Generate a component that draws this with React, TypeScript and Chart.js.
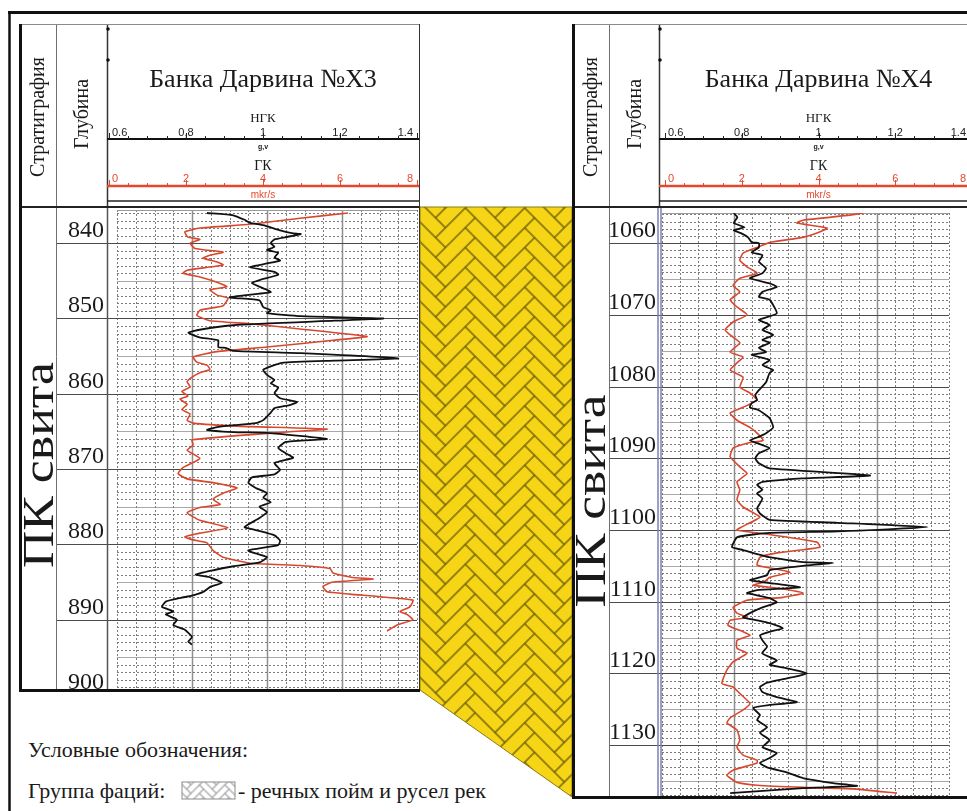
import React, { useEffect, useRef } from "react";
import { Chart, registerables } from "chart.js";

Chart.register(...registerables);

const SERIF = '"Liberation Serif", "Times New Roman", Tinos, "DejaVu Serif", "Noto Serif", serif';
const SANS = '"Liberation Sans", Arial, sans-serif';

type Pair = [number, number];

// ---- Well X3: [depth, value] ----
const x3Ngk: Pair[] = [
  [836.0, 0.84], [836.3, 0.91], [836.9, 0.94], [837.3, 0.955], [837.6, 0.99], [838.3, 1.035], [838.7, 1.07], [838.8, 1.09],
  [839.2, 1.05], [839.5, 1.02], [840.0, 1.01], [840.5, 1.02], [840.9, 1.0], [841.3, 1.03], [841.9, 1.02], [842.3, 1.035],
  [842.7, 1.0], [843.2, 0.955], [843.8, 1.02], [844.2, 1.03], [844.9, 0.98], [845.3, 0.96], [846.0, 0.99], [846.5, 1.01],
  [847.2, 0.9], [847.6, 0.98], [848.5, 0.99], [848.9, 1.01], [849.3, 1.0], [849.7, 1.09], [850.0, 1.31], [850.3, 1.18],
  [850.9, 0.91], [851.5, 0.82], [851.9, 0.79], [852.5, 0.82], [852.9, 0.87], [853.8, 0.87], [853.9, 0.89], [854.3, 0.91],
  [854.6, 1.09], [855.3, 1.35], [855.6, 1.18], [855.9, 1.04], [856.8, 0.99], [857.5, 1.0], [858.2, 1.02], [858.6, 1.01],
  [859.2, 1.03], [859.9, 1.02], [860.6, 1.035], [861.1, 1.08], [861.5, 1.06], [861.9, 1.02], [862.5, 1.01], [863.5, 0.99],
  [863.9, 0.97], [864.4, 0.87], [864.8, 0.84], [865.1, 0.91], [865.2, 1.0], [866.0, 1.16], [866.4, 1.05], [867.2, 1.03],
  [867.9, 1.05], [868.5, 1.07], [869.2, 1.02], [870.1, 1.035], [870.7, 1.02], [871.1, 0.96], [871.8, 0.95], [872.5, 0.97],
  [873.2, 1.0], [873.8, 0.99], [874.4, 1.01], [875.0, 0.98], [875.7, 1.0], [876.5, 0.98], [877.7, 0.94], [878.1, 0.97],
  [878.8, 1.02], [879.5, 1.035], [880.1, 1.03], [880.8, 0.95], [881.2, 0.97], [881.7, 1.0], [882.4, 0.98], [882.9, 0.91],
  [883.4, 0.86], [884.0, 0.81], [884.4, 0.85], [885.1, 0.88], [885.6, 0.85], [886.3, 0.83], [886.8, 0.8], [887.1, 0.77],
  [887.6, 0.73], [888.3, 0.72], [888.9, 0.75], [889.3, 0.73], [890.0, 0.76], [890.7, 0.75], [891.3, 0.78], [892.3, 0.8],
  [892.9, 0.79], [893.3, 0.8],
];

const x3Gk: Pair[] = [
  [836.0, 6.16], [836.7, 4.88], [837.5, 3.55], [838.0, 2.21], [838.5, 1.81], [839.2, 1.89], [839.5, 2.21], [840.0, 1.95],
  [840.7, 2.08], [841.2, 2.83], [841.6, 2.48], [842.0, 2.29], [842.5, 2.67], [842.9, 2.83], [843.6, 1.87], [844.0, 1.76],
  [844.5, 2.21], [845.2, 2.67], [845.8, 2.93], [846.2, 2.48], [846.9, 2.67], [847.3, 2.96], [848.3, 2.83], [848.9, 2.21],
  [849.6, 2.13], [850.3, 2.48], [850.7, 3.55], [851.4, 4.88], [852.4, 6.67], [852.9, 5.76], [853.8, 4.0], [854.4, 2.67],
  [855.1, 2.03], [855.8, 2.13], [856.2, 2.4], [856.8, 2.48], [857.2, 2.21], [857.8, 2.0], [858.4, 1.87], [859.1, 1.95],
  [859.7, 1.73], [860.3, 1.89], [860.7, 1.68], [861.4, 1.87], [862.1, 1.73], [862.7, 1.95], [863.5, 1.87], [863.9, 2.03],
  [864.3, 3.2], [864.7, 5.6], [865.1, 4.43], [866.1, 2.0], [866.8, 2.03], [867.5, 1.87], [868.6, 2.21], [869.8, 1.76],
  [870.6, 1.63], [871.3, 1.87], [871.8, 2.56], [872.5, 3.2], [873.2, 2.83], [874.0, 2.56], [874.7, 2.75], [875.1, 2.21],
  [875.8, 1.87], [876.8, 2.21], [877.8, 2.96], [878.5, 2.21], [879.0, 1.81], [879.4, 2.03], [879.8, 2.4], [880.8, 2.56],
  [881.7, 2.83], [882.5, 3.55], [882.8, 4.88], [883.2, 5.68], [883.8, 5.76], [884.4, 6.29], [884.6, 6.83], [885.0, 5.76],
  [885.6, 5.49], [886.3, 5.6], [886.6, 6.21], [887.4, 7.89], [888.3, 7.81], [888.9, 7.55], [889.3, 7.73], [890.0, 7.89],
  [890.7, 7.47], [891.5, 7.2],
];

// ---- Well X4: [depth, value] ----
const x4Ngk: Pair[] = [
  [1055.8, 0.8], [1056.4, 0.81], [1057.2, 0.8], [1057.8, 0.83], [1058.2, 0.8], [1058.6, 0.82], [1059.2, 0.84], [1059.9, 0.85],
  [1060.0, 0.87], [1060.6, 0.87], [1061.3, 0.85], [1061.7, 0.88], [1062.6, 0.87], [1063.5, 0.89], [1064.2, 0.88], [1064.9, 0.845],
  [1065.6, 0.9], [1066.1, 0.92], [1066.8, 0.88], [1067.5, 0.87], [1067.9, 0.9], [1069.8, 0.92], [1070.7, 0.87], [1071.4, 0.9],
  [1072.1, 0.88], [1072.8, 0.91], [1073.5, 0.88], [1073.9, 0.9], [1074.6, 0.87], [1075.2, 0.89], [1075.6, 0.85], [1076.3, 0.9],
  [1077.0, 0.88], [1077.7, 0.91], [1078.1, 0.9], [1079.4, 0.89], [1080.5, 0.87], [1081.2, 0.86], [1081.9, 0.865], [1082.3, 0.85],
  [1082.9, 0.845], [1083.3, 0.87], [1084.4, 0.9], [1085.7, 0.91], [1086.5, 0.89], [1087.1, 0.865], [1087.5, 0.845], [1087.9, 0.865],
  [1088.6, 0.9], [1089.3, 0.87], [1090.0, 0.86], [1090.7, 0.87], [1091.4, 0.9], [1092.4, 1.18], [1092.8, 0.99], [1093.3, 0.88],
  [1093.7, 0.865], [1094.4, 0.88], [1094.9, 0.865], [1095.6, 0.88], [1096.3, 0.873], [1097.0, 0.865], [1097.7, 0.873], [1098.6, 0.9],
  [1099.0, 1.09], [1099.6, 1.34], [1100.2, 1.09], [1100.4, 0.9], [1101.0, 0.81], [1102.4, 0.795], [1102.8, 0.826], [1103.8, 0.9],
  [1104.5, 0.993], [1104.6, 1.077], [1105.0, 0.993], [1105.6, 0.9], [1106.3, 0.893], [1107.0, 0.845], [1107.4, 0.9], [1108.0, 0.985],
  [1108.4, 0.865], [1108.8, 0.837], [1109.5, 0.9], [1110.1, 0.92], [1110.8, 0.88], [1111.6, 0.845], [1112.2, 0.826], [1112.6, 0.865],
  [1113.0, 0.9], [1113.7, 0.937], [1114.2, 0.9], [1114.7, 0.873], [1115.4, 0.88], [1116.3, 0.893], [1117.2, 0.879], [1118.2, 0.92],
  [1118.8, 0.9], [1119.3, 0.948], [1120.0, 1.004], [1120.7, 0.948], [1121.3, 0.893], [1121.9, 0.873], [1122.6, 0.88], [1123.3, 0.92],
  [1124.0, 0.976], [1124.4, 0.9], [1124.8, 0.854], [1125.8, 0.873], [1126.5, 0.865], [1127.5, 0.893], [1128.3, 0.873], [1129.3, 0.9],
  [1130.3, 0.88], [1131.1, 0.92], [1131.8, 0.9], [1132.5, 0.873], [1133.1, 0.893], [1133.8, 0.948], [1134.6, 0.993], [1135.3, 1.077],
  [1135.7, 1.144], [1136.0, 0.993], [1136.7, 0.79],
];

const x4Gk: Pair[] = [
  [1055.8, 5.6], [1056.1, 5.24], [1056.8, 3.93], [1057.2, 3.76], [1057.9, 4.6], [1058.6, 4.32], [1059.2, 3.93], [1059.9, 3.01],
  [1060.6, 2.65], [1061.4, 2.26], [1062.4, 2.17], [1063.3, 2.37], [1064.2, 2.65], [1064.9, 2.17], [1065.9, 1.98], [1066.8, 2.17],
  [1067.9, 1.9], [1068.9, 2.09], [1070.0, 2.37], [1071.0, 1.98], [1072.1, 1.76], [1073.1, 1.98], [1073.9, 2.17], [1075.2, 1.9],
  [1075.9, 2.26], [1076.7, 2.09], [1077.7, 1.9], [1078.7, 2.26], [1080.1, 2.17], [1080.9, 2.45], [1081.9, 2.65], [1082.9, 2.26],
  [1083.7, 1.9], [1084.7, 2.09], [1085.7, 2.45], [1086.5, 2.65], [1087.5, 2.82], [1087.9, 2.37], [1088.6, 1.98], [1089.8, 1.9],
  [1091.2, 2.17], [1092.1, 2.37], [1093.3, 2.09], [1094.4, 2.17], [1095.8, 2.09], [1096.8, 2.26], [1098.2, 2.73], [1099.0, 2.45],
  [1100.0, 2.09], [1100.4, 2.65], [1101.7, 4.32], [1102.4, 4.4], [1103.2, 3.21], [1103.8, 2.73], [1104.9, 2.65], [1105.3, 3.01],
  [1105.9, 3.57], [1106.6, 3.01], [1107.3, 2.82], [1107.7, 2.54], [1108.1, 3.21], [1108.8, 3.93], [1109.4, 3.37], [1109.8, 2.37],
  [1110.8, 1.98], [1111.6, 2.09], [1112.2, 2.37], [1112.6, 1.9], [1113.3, 1.84], [1114.2, 2.26], [1114.7, 2.45], [1115.4, 2.09],
  [1116.5, 2.09], [1117.2, 2.37], [1118.4, 1.98], [1119.5, 1.81], [1121.4, 1.67], [1121.9, 1.98], [1122.8, 2.17], [1124.2, 2.45],
  [1125.1, 2.26], [1126.2, 1.9], [1126.9, 1.81], [1127.9, 2.09], [1129.3, 2.17], [1130.3, 2.09], [1131.4, 2.26], [1132.1, 2.65],
  [1132.5, 2.65], [1133.5, 1.98], [1134.2, 1.81], [1135.2, 2.09], [1135.6, 2.65], [1135.9, 3.93], [1136.1, 5.32], [1136.7, 6.55],
];

// ---- axis labels ----
const ngkTicks = [0.6, 0.8, 1, 1.2, 1.4];
const ngkTickLabels = ["0.6", "0,8", "1", "1,2", "1.4"];
const gkTicks = [0, 2, 4, 6, 8];
const gkTickLabels = ["0", "2", "4", "6", "8"];
const x3DepthTicks = [840, 850, 860, 870, 880, 890, 900];
const x4DepthTicks = [1060, 1070, 1080, 1090, 1100, 1110, 1120, 1130];

interface WellSpec {
  id: string;
  title: string;
  left: number;
  top: number;
  width: number;
  height: number;
  pad: { left: number; right: number; top: number; bottom: number };
  depthRange: [number, number];
  headerGk: [number, number];
  depthTicks: number[];
  ngk: Pair[];
  gk: Pair[];
  stratX: number;
  trackX: number;
  formationBaseX: number;
  formationMidY: number;
  formationLen: number;
  rightEdge: boolean;
  doubleEdge: boolean;
}

// header rows, canvas-relative
const HEAD = {
  titleY: 56,
  ngkNameY: 95,
  ngkLabelY: 108.5,
  ngkLineY: 115,
  unitY: 123.5,
  gkNameY: 142,
  gkLabelY: 154.5,
  gkLineY: 162,
  mkrY: 171,
  bottomY: 177,
  bodyY: 183,
};

const RED = "#d9482e";
const RED_AXIS = "#e4492f";

const wells: WellSpec[] = [
  {
    id: "x3",
    title: "Банка Дарвина №X3",
    left: 19,
    top: 24,
    width: 401,
    height: 668,
    pad: { left: 98, right: 3, top: 186, bottom: 3 },
    depthRange: [835.6, 899.2],
    headerGk: [0.208, 8],
    depthTicks: x3DepthTicks,
    ngk: x3Ngk,
    gk: x3Gk,
    stratX: 37,
    trackX: 88,
    formationBaseX: 34,
    formationMidY: 441,
    formationLen: 206,
    rightEdge: true,
    doubleEdge: false,
  },
  {
    id: "x4",
    title: "Банка Дарвина №X4",
    left: 572,
    top: 24,
    width: 395,
    height: 775,
    pad: { left: 90, right: 18, top: 189, bottom: 3 },
    depthRange: [1055.8, 1137.1],
    headerGk: [-0.078, 7.4],
    depthTicks: x4DepthTicks,
    ngk: x4Ngk,
    gk: x4Gk,
    stratX: 37,
    trackX: 87,
    formationBaseX: 33,
    formationMidY: 477,
    formationLen: 213,
    rightEdge: false,
    doubleEdge: true,
  },
];

function seg(ctx: CanvasRenderingContext2D, x1: number, y1: number, x2: number, y2: number) {
  ctx.beginPath();
  ctx.moveTo(x1, y1);
  ctx.lineTo(x2, y2);
  ctx.stroke();
}

function vText(
  ctx: CanvasRenderingContext2D,
  text: string,
  x: number,
  y: number,
  font: string,
  baseline: CanvasTextBaseline,
  length?: number
) {
  ctx.save();
  ctx.translate(x, y);
  ctx.rotate(-Math.PI / 2);
  ctx.font = font;
  ctx.textAlign = "center";
  ctx.textBaseline = baseline;
  if (length) {
    const w = ctx.measureText(text).width;
    ctx.scale(length / w, 1);
  }
  ctx.fillText(text, 0, 0);
  ctx.restore();
}

function drawGrid(chart: any, spec: WellSpec) {
  const { ctx, chartArea: a } = chart;
  const xs = chart.scales.x;
  const ys = chart.scales.y;
  ctx.save();
  ctx.lineWidth = 1;
  const dTop = Math.ceil(ys.min);
  const dBot = Math.floor(ys.max);
  for (let d = dTop; d <= dBot; d++) {
    if (d % 10 === 0) continue;
    const py = Math.round(ys.getPixelForValue(d)) + 0.5;
    if (d % 5 === 0) {
      ctx.setLineDash([]);
      ctx.strokeStyle = "#a8a8a8";
    } else {
      ctx.setLineDash([2, 2]);
      ctx.strokeStyle = "#7c7c7c";
    }
    seg(ctx, a.left, py, a.right, py);
  }
  for (let i = 0; i <= 16; i++) {
    const px = Math.round(xs.getPixelForValue(i / 2)) + 0.5;
    if (i % 4 === 0 && i > 0 && i < 16) {
      ctx.setLineDash([]);
      ctx.strokeStyle = "#8e8e8e";
      ctx.lineWidth = 1.5;
    } else {
      ctx.setLineDash([2, 2]);
      ctx.strokeStyle = "#7c7c7c";
      ctx.lineWidth = 1;
    }
    seg(ctx, px, a.top, px, a.bottom);
  }
  ctx.setLineDash([]);
  ctx.lineWidth = 1;
  ctx.strokeStyle = "#9a9a9a";
  seg(ctx, a.left, a.top + 0.5, a.right, a.top + 0.5);
  ctx.strokeStyle = "#4a4a4a";
  for (const d of spec.depthTicks) {
    const py = Math.round(ys.getPixelForValue(d)) + 0.5;
    if (py < a.top || py > a.bottom) continue;
    seg(ctx, spec.stratX, py, a.right, py);
  }
  ctx.restore();
}

function drawFrame(chart: any, spec: WellSpec) {
  const { ctx, chartArea: a, width: W } = chart;
  const ys = chart.scales.y;
  const hg = chart.scales.xhg;
  const hn = chart.scales.xhn;
  const bottom = a.bottom;
  ctx.save();

  // column separators
  ctx.lineWidth = 1;
  ctx.strokeStyle = "#6f6f6f";
  seg(ctx, spec.stratX + 0.5, 0, spec.stratX + 0.5, bottom);
  ctx.strokeStyle = "#333";
  ctx.lineWidth = 1.5;
  seg(ctx, spec.trackX + 0.5, 0, spec.trackX + 0.5, HEAD.bodyY);
  if (spec.doubleEdge) {
    ctx.strokeStyle = "#7b80b2";
    ctx.lineWidth = 1.5;
    seg(ctx, spec.trackX - 1, HEAD.bodyY, spec.trackX - 1, bottom);
    seg(ctx, spec.trackX + 2, HEAD.bodyY, spec.trackX + 2, bottom);
  } else {
    ctx.strokeStyle = "#555";
    seg(ctx, spec.trackX + 0.5, HEAD.bodyY, spec.trackX + 0.5, bottom);
  }

  // header rules
  ctx.strokeStyle = "#8a8a8a";
  ctx.lineWidth = 1;
  seg(ctx, 0, 0.5, W, 0.5);
  ctx.strokeStyle = "#111";
  ctx.lineWidth = 2;
  seg(ctx, spec.trackX, HEAD.ngkLineY, W, HEAD.ngkLineY);
  ctx.strokeStyle = RED_AXIS;
  ctx.lineWidth = 2.5;
  seg(ctx, spec.trackX, HEAD.gkLineY, W, HEAD.gkLineY);
  ctx.strokeStyle = "#222";
  ctx.lineWidth = 1.5;
  seg(ctx, spec.trackX, HEAD.bottomY, W, HEAD.bottomY);
  ctx.lineWidth = 2;
  seg(ctx, 0, HEAD.bodyY, W, HEAD.bodyY);

  // small marks on the header edge
  ctx.fillStyle = "#111";
  for (const my of [5, 36]) {
    ctx.beginPath();
    ctx.arc(spec.trackX + 1, my, 1.8, 0, Math.PI * 2);
    ctx.fill();
  }

  // header axis ticks
  ctx.lineWidth = 1;
  for (let i = 0; i <= 16; i++) {
    const v = 0.6 + i * 0.05;
    const px = Math.round(hn.getPixelForValue(v)) + 0.5;
    if (px > W) continue;
    const major = i % 4 === 0;
    ctx.strokeStyle = "#222";
    seg(ctx, px, HEAD.ngkLineY - (major ? 6 : 3), px, HEAD.ngkLineY);
    const g = i * 0.5;
    const gx = Math.round(hg.getPixelForValue(g)) + 0.5;
    ctx.strokeStyle = RED_AXIS;
    seg(ctx, gx, HEAD.gkLineY - (major ? 6 : 3), gx, HEAD.gkLineY);
  }

  const tickLabel = (text: string, x: number, y: number, i: number, n: number) => {
    if (i === 0) {
      ctx.textAlign = "left";
      ctx.fillText(text, x + 3, y);
    } else if (i === n - 1) {
      ctx.textAlign = "right";
      ctx.fillText(text, Math.min(x - 4, W - 1), y);
    } else {
      ctx.textAlign = "center";
      ctx.fillText(text, x, y);
    }
  };
  ctx.textBaseline = "middle";
  ctx.font = `11px ${SANS}`;
  ctx.fillStyle = "#222";
  ngkTicks.forEach((v, i) => tickLabel(ngkTickLabels[i], hn.getPixelForValue(v), HEAD.ngkLabelY, i, ngkTicks.length));
  ctx.fillStyle = RED_AXIS;
  gkTicks.forEach((v, i) => tickLabel(gkTickLabels[i], hg.getPixelForValue(v), HEAD.gkLabelY, i, gkTicks.length));

  const mid = hg.getPixelForValue(4);
  ctx.textAlign = "center";
  ctx.fillStyle = "#1a1a1a";
  ctx.font = `26px ${SERIF}`;
  ctx.fillText(spec.title, mid, HEAD.titleY);
  ctx.font = `13px ${SERIF}`;
  ctx.fillText("НГК", mid, HEAD.ngkNameY);
  ctx.font = `14px ${SERIF}`;
  ctx.fillText("ГК", mid, HEAD.gkNameY);
  ctx.font = `bold 7px ${SANS}`;
  ctx.fillText("g,v", mid, HEAD.unitY);
  ctx.fillStyle = RED_AXIS;
  ctx.font = `10px ${SANS}`;
  ctx.fillText("mkr/s", mid, HEAD.mkrY);

  // column captions
  ctx.fillStyle = "#1a1a1a";
  vText(ctx, "Стратиграфия", spec.stratX / 2 + 1, 93, `20px ${SERIF}`, "middle");
  vText(ctx, "Глубина", (spec.stratX + spec.trackX) / 2 + 1.5, 90, `20px ${SERIF}`, "middle");
  vText(ctx, "ПК свита", spec.formationBaseX, spec.formationMidY, `44px ${SERIF}`, "alphabetic", spec.formationLen);

  // depth labels
  ctx.font = `24px ${SERIF}`;
  ctx.textAlign = "right";
  ctx.textBaseline = "alphabetic";
  for (const d of spec.depthTicks) {
    const py = ys.getPixelForValue(d);
    ctx.fillText(String(d), spec.trackX - 3, py - 6);
  }

  // outer box
  ctx.strokeStyle = "#111";
  ctx.lineWidth = 3;
  seg(ctx, 1.5, 0, 1.5, bottom + 3);
  seg(ctx, 0, bottom + 1.5, W, bottom + 1.5);
  if (spec.rightEdge) {
    ctx.strokeStyle = "#333";
    ctx.lineWidth = 1;
    seg(ctx, W - 0.5, 0, W - 0.5, bottom);
  }
  ctx.restore();
}

function WellLog({ spec }: { spec: WellSpec }) {
  const ref = useRef<HTMLCanvasElement>(null);
  useEffect(() => {
    const canvas = ref.current;
    if (!canvas) return;
    const [gMin, gMax] = spec.headerGk;
    const chart = new Chart(canvas, {
      type: "scatter",
      data: {
        datasets: [
          {
            label: "НГК",
            data: spec.ngk.map(([d, v]) => ({ x: v, y: d })),
            xAxisID: "xn",
            yAxisID: "y",
            showLine: true,
            borderColor: "#111",
            borderWidth: 1.8,
            pointRadius: 0,
            tension: 0.15,
          },
          {
            label: "ГК",
            data: spec.gk.map(([d, v]) => ({ x: v, y: d })),
            xAxisID: "x",
            yAxisID: "y",
            showLine: true,
            borderColor: RED,
            borderWidth: 1.6,
            pointRadius: 0,
            tension: 0.15,
          },
        ],
      },
      options: {
        responsive: false,
        animation: false,
        events: [],
        layout: { padding: spec.pad },
        plugins: { legend: { display: false }, tooltip: { enabled: false } },
        scales: {
          x: { type: "linear", min: 0, max: 8, display: false },
          xn: { type: "linear", axis: "x", min: 0.6, max: 1.4, display: false },
          xhg: { type: "linear", axis: "x", position: "top", min: gMin, max: gMax, display: false },
          xhn: { type: "linear", axis: "x", position: "top", min: 0.6 + gMin / 10, max: 0.6 + gMax / 10, display: false },
          y: { type: "linear", min: spec.depthRange[0], max: spec.depthRange[1], reverse: true, display: false },
        },
      } as any,
      plugins: [
        {
          id: "wellLog_" + spec.id,
          beforeDatasetsDraw: (c: any) => drawGrid(c, spec),
          afterDatasetsDraw: (c: any) => drawFrame(c, spec),
        },
      ],
    });
    return () => chart.destroy();
  }, [spec]);
  return (
    <canvas
      ref={ref}
      width={spec.width}
      height={spec.height}
      style={{ position: "absolute", left: spec.left, top: spec.top, width: spec.width, height: spec.height }}
    />
  );
}

// herringbone bricks (length L, width 1, in units of u) inside a 2L x 2L tile
function herringbone(u: number, L: number): number[][] {
  const T = 2 * L;
  const out: number[][] = [];
  for (let i = -3 * T; i <= 3 * T; i++) {
    for (let j = -4; j <= 4; j++) {
      const ox = i + j * L;
      const oy = i - j * L;
      const bricks = [
        [ox, oy, L, 1],
        [ox + L, oy + 1 - L, 1, L],
      ];
      for (const [x, y, w, h] of bricks) {
        if (x <= T && x + w >= 0 && y <= T && y + h >= 0) out.push([x * u, y * u, w * u, h * u]);
      }
    }
  }
  return out;
}

function Backdrop() {
  const U = 14;
  const L = 3;
  const K = 6;
  const big = herringbone(U, L);
  const small = herringbone(K, L);
  return (
    <svg width={967} height={811} style={{ position: "absolute", left: 0, top: 0 }}>
      <defs>
        <pattern id="facies" patternUnits="userSpaceOnUse" width={2 * L * U} height={2 * L * U} patternTransform="rotate(45)">
          <rect width={2 * L * U} height={2 * L * U} fill="#f6d416" />
          {big.map(([x, y, w, h], k) => (
            <rect key={k} x={x} y={y} width={w} height={h} fill="none" stroke="#6e5f05" strokeWidth={0.9} />
          ))}
        </pattern>
        <pattern id="faciesKey" patternUnits="userSpaceOnUse" width={2 * L * K} height={2 * L * K} patternTransform="rotate(45)">
          <rect width={2 * L * K} height={2 * L * K} fill="#fff" />
          {small.map(([x, y, w, h], k) => (
            <rect key={k} x={x} y={y} width={w} height={h} fill="none" stroke="#a0a0a0" strokeWidth={0.7} />
          ))}
        </pattern>
      </defs>
      <rect x={0} y={0} width={967} height={811} fill="#fff" />
      <polygon points="420,207 572,207 572,797 420,690" fill="url(#facies)" stroke="#8a7a10" strokeWidth={1} />
      <line x1={8} y1={12.5} x2={967} y2={12.5} stroke="#111" strokeWidth={3} />
      <line x1={9.5} y1={11} x2={9.5} y2={811} stroke="#111" strokeWidth={2.5} />
      <g fontFamily={SERIF} fontSize={22} fill="#1a1a1a">
        <text x={28} y={757}>Условные обозначения:</text>
        <text x={28} y={798}>Группа фаций:</text>
        <text x={238} y={798}>- речных пойм и русел рек</text>
      </g>
      <rect x={182} y={782} width={53} height={17} fill="url(#faciesKey)" stroke="#8c8c8c" strokeWidth={1} />
    </svg>
  );
}

export default function App() {
  return (
    <div style={{ position: "absolute", left: 0, top: 0, width: 967, height: 811, background: "#fff", overflow: "hidden" }}>
      <Backdrop />
      {wells.map((w) => (
        <WellLog key={w.id} spec={w} />
      ))}
    </div>
  );
}
